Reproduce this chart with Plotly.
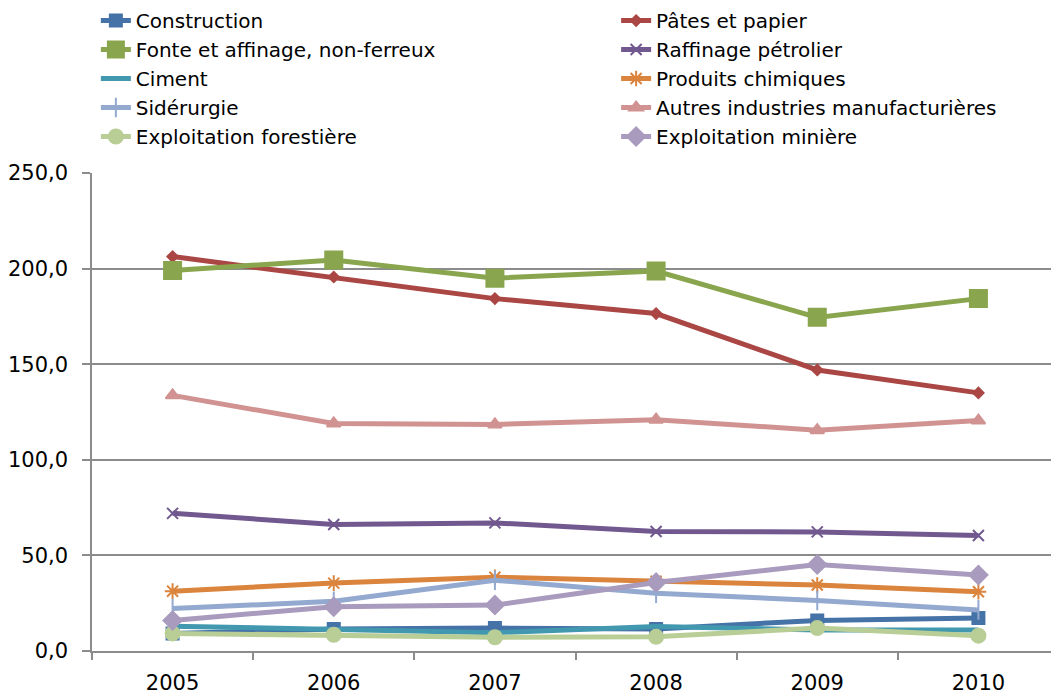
import plotly.graph_objects as go

years = ["2005", "2006", "2007", "2008", "2009", "2010"]

construction = [9.2, 11.5, 12.0, 11.5, 16.0, 17.2]
pates_papier = [206.3, 195.6, 184.3, 176.5, 147.0, 135.0]
fonte_affinage = [199.0, 204.5, 195.0, 198.7, 174.5, 184.3]
raffinage = [72.0, 66.2, 67.0, 62.5, 62.3, 60.4]
ciment = [13.0, 11.0, 9.6, 12.8, 11.0, 11.0]
produits_chimiques = [31.3, 35.5, 38.6, 36.5, 34.5, 31.0]
siderurgie = [22.2, 26.0, 37.0, 30.2, 26.4, 21.5]
autres_industries = [133.7, 119.0, 118.5, 121.0, 115.5, 120.5]
exploitation_forestiere = [9.2, 8.5, 7.2, 7.4, 12.0, 8.0]
exploitation_miniere = [16.0, 23.2, 24.0, 35.8, 45.2, 39.8]

y_ticks = [0, 50, 100, 150, 200, 250]
y_tick_labels = ["0,0", "50,0", "100,0", "150,0", "200,0", "250,0"]

# name, values, colour, symbol, size, legend
series = [
    ("Construction", construction, "#4572A7", "square", 12, "legend"),
    ("Pâtes et papier", pates_papier, "#AA4643", "diamond", 8, "legend2"),
    ("Fonte et affinage, non-ferreux", fonte_affinage, "#89A54E", "square", 17, "legend"),
    ("Raffinage pétrolier", raffinage, "#71588F", "x-thin-open", 11, "legend2"),
    ("Ciment", ciment, "#4198AF", None, 0, "legend"),
    ("Produits chimiques", produits_chimiques, "#DB843D", "asterisk-open", 13, "legend2"),
    ("Sidérurgie", siderurgie, "#93A9CF", "line-ns-open", 14, "legend"),
    ("Autres industries manufacturières", autres_industries, "#D19392", "triangle-up", 12, "legend2"),
    ("Exploitation forestière", exploitation_forestiere, "#B9CD96", "circle", 14, "legend"),
    ("Exploitation minière", exploitation_miniere, "#A99BBD", "diamond", 14, "legend2"),
]

fig = go.Figure()
for name, vals, color, sym, size, leg in series:
    if sym is None:
        fig.add_trace(go.Scatter(x=years, y=vals, name=name, mode="lines",
                                 legend=leg,
                                 line=dict(color=color, width=5)))
    else:
        fig.add_trace(go.Scatter(
            x=years, y=vals, name=name, mode="lines+markers", legend=leg,
            line=dict(color=color, width=5),
            marker=dict(symbol=sym, size=size, color=color,
                        line=dict(color=color, width=2))))

font_family = "'DejaVu Sans', 'Open Sans', sans-serif"
leg_font = dict(family=font_family, size=20, color="#000000")
tick_font = dict(family=font_family, size=21, color="#000000")

fig.update_layout(
    width=1051, height=690,
    margin=dict(l=84, r=0, t=165, b=47, autoexpand=False),
    paper_bgcolor="white", plot_bgcolor="white",
    font=dict(family=font_family, size=21, color="#000000"),
    showlegend=True,
    legend=dict(
        x=0.004, y=1.3598, xanchor="left", yanchor="top",
        font=leg_font, traceorder="normal", tracegroupgap=0,
        bgcolor="rgba(0,0,0,0)",
    ),
    legend2=dict(
        x=0.542, y=1.3598, xanchor="left", yanchor="top",
        font=leg_font, traceorder="normal", tracegroupgap=0,
        bgcolor="rgba(0,0,0,0)",
    ),
    xaxis=dict(
        type="category", range=[-0.5, 5.5],
        showgrid=False, showline=True, linecolor="#8c8c8c", linewidth=1.5,
        ticks="outside", tickson="boundaries", ticklen=7, tickcolor="#8c8c8c",
        tickwidth=1.5,
        tickfont=tick_font,
        ticklabelstandoff=12,
        automargin=False,
    ),
    yaxis=dict(
        range=[0, 250], tickvals=y_ticks, ticktext=y_tick_labels,
        showgrid=True, gridcolor="#8c8c8c", gridwidth=1.5,
        showline=True, linecolor="#8c8c8c", linewidth=1.5,
        ticks="outside", ticklen=8, tickcolor="#8c8c8c", tickwidth=1.5,
        tickfont=tick_font,
        ticklabelstandoff=10,
        zeroline=False,
        automargin=False,
    ),
)

fig.write_html("out.html")
